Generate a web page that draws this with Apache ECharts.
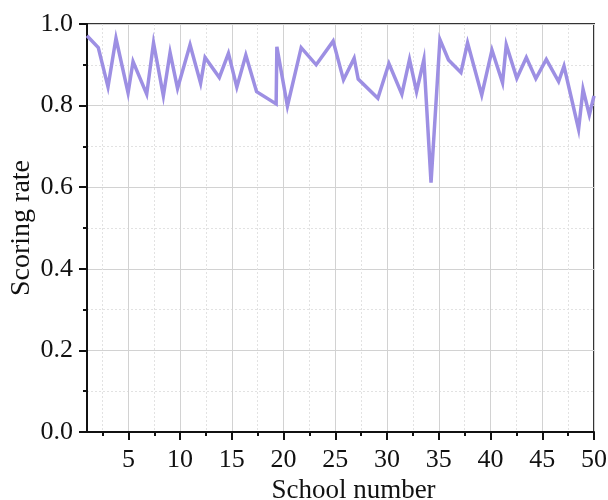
<!DOCTYPE html>
<html>
<head>
<meta charset="utf-8">
<script src="https://cdn.jsdelivr.net/npm/echarts@6/dist/echarts.min.js"></script>
<style>html,body{margin:0;padding:0;background:#fff}#c{width:608px;height:500px}</style>
</head>
<body>
<div id="c"></div>
<script>
// School number positions and scoring rates
const schoolX = [1, 2.09, 3.03, 3.80, 4.97, 5.45, 6.77, 7.43, 8.38, 9.03, 9.75, 10.96, 11.98, 12.41, 13.79, 14.67, 15.48, 16.35, 17.39, 19.28, 19.35, 20.37, 21.70, 23.15, 24.79, 25.79, 26.82, 27.21, 29.11, 30.18, 31.43, 32.17, 32.85, 33.56, 34.25, 35.11, 35.94, 37.14, 37.78, 39.15, 40.14, 41.16, 41.52, 42.54, 43.46, 44.38, 45.39, 46.58, 47.10, 48.51, 48.94, 49.55, 50];
const scoringRate = [0.971, 0.942, 0.846, 0.965, 0.831, 0.908, 0.828, 0.954, 0.824, 0.930, 0.842, 0.949, 0.855, 0.918, 0.869, 0.928, 0.845, 0.924, 0.834, 0.804, 0.944, 0.799, 0.942, 0.900, 0.958, 0.863, 0.916, 0.865, 0.818, 0.903, 0.828, 0.913, 0.834, 0.913, 0.611, 0.962, 0.912, 0.881, 0.954, 0.826, 0.936, 0.856, 0.949, 0.867, 0.918, 0.866, 0.913, 0.859, 0.897, 0.742, 0.840, 0.777, 0.824];
const xMajorTicks = [5, 10, 15, 20, 25, 30, 35, 40, 45, 50];
const xMinorTicks = [2.5, 7.5, 12.5, 17.5, 22.5, 27.5, 32.5, 37.5, 42.5, 47.5];
const xName = 'School number';
const yName = 'Scoring rate';

const font = 'Liberation Serif';
const chart = echarts.init(document.getElementById('c'), null, {renderer: 'canvas'});
chart.setOption({
  animation: false,
  grid: {left: 87, right: 14, top: 24, bottom: 68, containLabel: false, outerBoundsMode: 'none',
         show: true, borderColor: '#333', borderWidth: 2},
  xAxis: [{
    type: 'value', min: 1, max: 50, position: 'bottom',
    name: xName, nameLocation: 'middle', nameGap: 43,
    nameTextStyle: {fontFamily: font, fontSize: 27, color: '#111', padding: [0, 0, 0, 26]},
    axisLine: {show: true, lineStyle: {color: '#111', width: 2}},
    axisTick: {show: true, inside: false, length: 8, customValues: xMajorTicks, lineStyle: {color: '#111', width: 2}},
    axisLabel: {customValues: xMajorTicks, fontFamily: font, fontSize: 26, color: '#111', margin: 15},
    splitLine: {show: true, lineStyle: {color: '#d2d2d2', width: 1}}
  }, {
    type: 'value', min: 1, max: 50, position: 'bottom',
    axisLine: {show: false},
    axisTick: {show: true, inside: false, length: 4, customValues: xMinorTicks, lineStyle: {color: '#111', width: 2}},
    axisLabel: {show: false},
    splitLine: {show: true, lineStyle: {color: '#e2e2e2', width: 1, type: [2, 2]}}
  }],
  yAxis: {
    type: 'value', min: 0, max: 1, interval: 0.2,
    name: yName, nameLocation: 'middle', nameGap: 51, nameMoveOverlap: false,
    nameTextStyle: {fontFamily: font, fontSize: 28, color: '#111'},
    axisLine: {show: true, lineStyle: {color: '#111', width: 2}},
    axisTick: {show: true, inside: false, length: 8, lineStyle: {color: '#111', width: 2}},
    minorTick: {show: true, splitNumber: 2, length: 4, lineStyle: {color: '#111', width: 2}},
    axisLabel: {fontFamily: font, fontSize: 26, color: '#111', margin: 14, formatter: v => v.toFixed(1)},
    splitLine: {show: true, lineStyle: {color: '#d2d2d2', width: 1}},
    minorSplitLine: {show: true, lineStyle: {color: '#e2e2e2', width: 1, type: [2, 2]}}
  },
  series: [{
    type: 'line', xAxisIndex: 0, yAxisIndex: 0,
    data: schoolX.map((x, i) => [x, scoringRate[i]]),
    showSymbol: false, symbol: 'none',
    lineStyle: {color: '#9d8fe3', width: 3.5, join: 'miter'}
  }]
});
</script>
</body>
</html>
